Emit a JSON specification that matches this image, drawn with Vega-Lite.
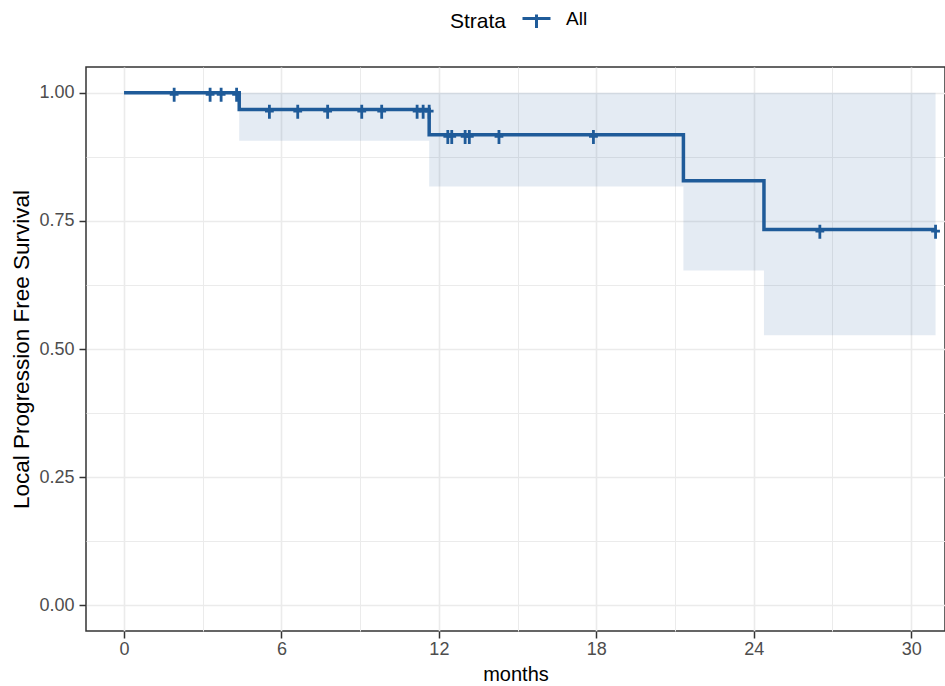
{
  "$schema": "https://vega.github.io/schema/vega-lite/v6.json",
  "width": 859,
  "height": 564,
  "autosize": {"type": "none"},
  "padding": {"left": 86, "top": 67, "right": 0, "bottom": 55},
  "background": "white",
  "config": {
    "font": "Liberation Sans",
    "view": {"stroke": "#333333", "strokeWidth": 1.5},
    "axis": {
      "domain": false,
      "tickColor": "#333333",
      "tickWidth": 1.5,
      "tickSize": 7,
      "labelFont": "Liberation Sans",
      "labelFontSize": 18,
      "labelColor": "#4D4D4D",
      "titleFont": "Liberation Sans",
      "titleFontWeight": "normal",
      "titleColor": "#000000",
      "gridColor": "#EBEBEB"
    }
  },
  "datasets": {
    "curve": [
      {"time": 0, "surv": 1.0, "strata": "All"},
      {"time": 4.39, "surv": 0.967, "strata": "All"},
      {"time": 11.63, "surv": 0.918, "strata": "All"},
      {"time": 21.32, "surv": 0.828, "strata": "All"},
      {"time": 24.39, "surv": 0.733, "strata": "All"},
      {"time": 30.93, "surv": 0.733, "strata": "All"}
    ],
    "band": [
      {"time": 4.39, "lower": 0.906, "upper": 1.0},
      {"time": 11.63, "lower": 0.817, "upper": 1.0},
      {"time": 21.32, "lower": 0.653, "upper": 1.0},
      {"time": 24.39, "lower": 0.527, "upper": 1.0},
      {"time": 30.93, "lower": 0.527, "upper": 1.0}
    ],
    "censor": [
      {"time": 1.91, "surv": 1.0},
      {"time": 3.28, "surv": 1.0},
      {"time": 3.70, "surv": 1.0},
      {"time": 4.29, "surv": 1.0},
      {"time": 5.54, "surv": 0.967},
      {"time": 6.62, "surv": 0.967},
      {"time": 7.76, "surv": 0.967},
      {"time": 9.06, "surv": 0.967},
      {"time": 9.82, "surv": 0.967},
      {"time": 11.17, "surv": 0.967},
      {"time": 11.40, "surv": 0.967},
      {"time": 11.63, "surv": 0.967},
      {"time": 12.34, "surv": 0.918},
      {"time": 12.49, "surv": 0.918},
      {"time": 13.00, "surv": 0.918},
      {"time": 13.16, "surv": 0.918},
      {"time": 14.29, "surv": 0.918},
      {"time": 17.89, "surv": 0.918},
      {"time": 26.52, "surv": 0.733},
      {"time": 30.93, "surv": 0.733}
    ]
  },
  "layer": [
    {
      "data": {"name": "band"},
      "mark": {"type": "area", "interpolate": "step-after", "color": "#1F5B99", "opacity": 0.12},
      "encoding": {
        "x": {
          "field": "time",
          "type": "quantitative",
          "scale": {"domain": [-1.45, 31.29], "nice": false, "zero": false},
          "axis": {
            "title": "months",
            "titleFontSize": 20,
            "titlePadding": 6,
            "labelPadding": 2,
            "values": [0, 3, 6, 9, 12, 15, 18, 21, 24, 27, 30],
            "labelExpr": "datum.value % 6 === 0 ? datum.label : ''",
            "tickOpacity": {"condition": {"test": "datum.value % 6 === 0", "value": 1}, "value": 0},
            "gridWidth": {"condition": {"test": "datum.value % 6 === 0", "value": 1.6}, "value": 1},
            "grid": true
          }
        },
        "y": {
          "field": "lower",
          "type": "quantitative",
          "scale": {"domain": [-0.05, 1.05], "nice": false, "zero": false},
          "axis": {
            "title": "Local Progression Free Survival",
            "titleFontSize": 22.5,
            "titlePadding": 5,
            "labelPadding": 5,
            "values": [0, 0.125, 0.25, 0.375, 0.5, 0.625, 0.75, 0.875, 1],
            "labelExpr": "(datum.value * 8) % 2 === 0 ? format(datum.value, '.2f') : ''",
            "tickOpacity": {"condition": {"test": "(datum.value * 8) % 2 === 0", "value": 1}, "value": 0},
            "gridWidth": {"condition": {"test": "(datum.value * 8) % 2 === 0", "value": 1.6}, "value": 1},
            "grid": true
          }
        },
        "y2": {"field": "upper"}
      }
    },
    {
      "data": {"name": "curve"},
      "mark": {"type": "line", "interpolate": "step-after", "strokeWidth": 3.5},
      "encoding": {
        "x": {"field": "time", "type": "quantitative"},
        "y": {"field": "surv", "type": "quantitative"},
        "color": {
          "field": "strata",
          "type": "nominal",
          "scale": {"range": ["#1F5B99"]},
          "legend": {
            "title": "Strata",
            "orient": "none",
            "legendX": 364,
            "legendY": -58,
            "direction": "horizontal",
            "titleOrient": "left",
            "titleFontSize": 21,
            "titleFontWeight": "normal",
            "titleColor": "#000000",
            "titlePadding": 20,
            "labelFontSize": 19,
            "labelColor": "#000000",
            "labelOffset": 20,
            "symbolType": "M-1.75,0H1.75M0,-0.5V1.2",
            "symbolSize": 256,
            "symbolStrokeWidth": 3
          }
        }
      }
    },
    {
      "data": {"name": "censor"},
      "mark": {
        "type": "point",
        "shape": "M-0.55,0.2H0.55M0,-0.6V1.15",
        "size": 256,
        "filled": false,
        "strokeWidth": 2.8,
        "color": "#1F5B99",
        "opacity": 1
      },
      "encoding": {
        "x": {"field": "time", "type": "quantitative"},
        "y": {"field": "surv", "type": "quantitative"}
      }
    }
  ]
}
